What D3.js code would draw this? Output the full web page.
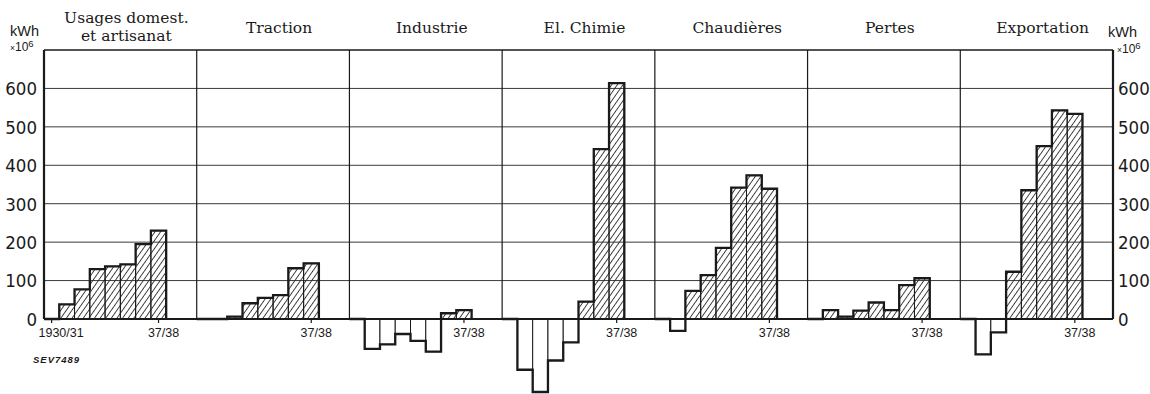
<!DOCTYPE html>
<html>
<head>
<meta charset="utf-8">
<script src="https://cdn.jsdelivr.net/npm/d3@7"></script>
<style>
  html, body { margin: 0; padding: 0; background: #fff; }
  svg { display: block; }
  .tick-y { font-family: "Liberation Sans Narrow", "DejaVu Sans Condensed", sans-serif; font-size: 18.5px; fill: #1a1a1a; }
  .title { font-family: "DejaVu Serif", "Liberation Serif", serif; font-size: 15.5px; fill: #1a1a1a; }
  .xlab { font-family: "Liberation Sans", "DejaVu Sans", sans-serif; font-size: 12.5px; fill: #1a1a1a; }
  .unit { font-family: "Liberation Sans", "DejaVu Sans", sans-serif; fill: #1a1a1a; }
</style>
</head>
<body>
<svg id="chart" width="1150" height="394"></svg>
<script>
// Electricity consumption by use, change against 1930/31 (kWh × 10^6)
const years = ["1930/31", "31/32", "32/33", "33/34", "34/35", "35/36", "36/37", "37/38"];
const categories = ["Usages domest.|et artisanat", "Traction", "Industrie", "El. Chimie", "Chaudières", "Pertes", "Exportation"];

const usages      = [0, 38, 77, 130, 137, 142, 195, 230];
const traction    = [0, 0, 6, 41, 55, 62, 132, 145];
const industrie   = [0, -78, -66, -39, -57, -85, 15, 23];
const chimie      = [0, -132, -190, -108, -61, 45, 442, 614];
const chaudieres  = [0, -31, 73, 114, 185, 342, 374, 339];
const pertes      = [0, 23, 6, 22, 43, 23, 88, 106];
const exportation = [0, -92, -35, 123, 335, 450, 543, 534];

const yTicks = [0, 100, 200, 300, 400, 500, 600];
const yMax = 700;
const slotsPerPanel = 10;

const seriesList = [usages, traction, industrie, chimie, chaudieres, pertes, exportation];

const svg = d3.select("#chart");
const ink = "#1a1a1a";

const plotLeft = 44, plotRight = 1113, plotTop = 50, zeroY = 319;

const y = d3.scaleLinear().domain([0, yMax]).range([zeroY, plotTop]);
const panel = d3.scaleBand().domain(categories).range([plotLeft, plotRight]).padding(0);

// diagonal hatching for positive bars
const defs = svg.append("defs");
const pat = defs.append("pattern")
  .attr("id", "hatch")
  .attr("patternUnits", "userSpaceOnUse")
  .attr("width", 4.6).attr("height", 10)
  .attr("patternTransform", "rotate(35)");
pat.append("line")
  .attr("x1", 2.3).attr("x2", 2.3).attr("y1", 0).attr("y2", 10)
  .attr("stroke", "#2a2a2a").attr("stroke-width", 0.9);

// horizontal grid
svg.append("g").selectAll("line")
  .data(yTicks.filter(d => d > 0))
  .join("line")
  .attr("x1", plotLeft).attr("x2", plotRight)
  .attr("y1", d => y(d)).attr("y2", d => y(d))
  .attr("stroke", "#3a3a3a").attr("stroke-width", 1);

// top frame line
svg.append("line")
  .attr("x1", plotLeft).attr("x2", plotRight)
  .attr("y1", y(yMax)).attr("y2", y(yMax))
  .attr("stroke", ink).attr("stroke-width", 1.3);

// panel dividers
svg.append("g").selectAll("line")
  .data(categories.slice(1))
  .join("line")
  .attr("x1", d => panel(d)).attr("x2", d => panel(d))
  .attr("y1", y(yMax)).attr("y2", y(0))
  .attr("stroke", ink).attr("stroke-width", 1.2);

// bars per panel
categories.forEach((cat, pi) => {
  const vals = seriesList[pi];
  const x = d3.scaleLinear().domain([0, slotsPerPanel]).range([panel(cat), panel(cat) + panel.bandwidth()]);
  const g = svg.append("g");

  g.selectAll("rect")
    .data(vals.map((v, i) => ({ v, i })).filter(d => d.v !== 0))
    .join("rect")
    .attr("x", d => x(d.i))
    .attr("width", d => x(d.i + 1) - x(d.i))
    .attr("y", d => Math.min(y(d.v), y(0)))
    .attr("height", d => Math.abs(y(d.v) - y(0)))
    .attr("fill", d => d.v > 0 ? "url(#hatch)" : "#fff")
    .attr("stroke", ink).attr("stroke-width", 1);

  // heavy stepped outline
  const p = d3.path();
  p.moveTo(x(0), y(0));
  vals.forEach((v, i) => { p.lineTo(x(i), y(v)); p.lineTo(x(i + 1), y(v)); });
  p.lineTo(x(vals.length), y(0));
  g.append("path").attr("d", p.toString())
    .attr("fill", "none").attr("stroke", ink)
    .attr("stroke-width", 2.3).attr("stroke-linejoin", "miter");

  // category title
  const lines = cat.split("|");
  const cx = panel(cat) + panel.bandwidth() / 2 + 6;
  lines.forEach((ln, li) => {
    svg.append("text").attr("class", "title")
      .attr("x", cx)
      .attr("y", lines.length > 1 ? 23 + li * 18 : 33)
      .attr("text-anchor", "middle")
      .text(ln);
  });

  // year markers
  const marks = pi === 0 ? [0, years.length - 1] : [years.length - 1];
  marks.forEach(i => {
    const bx = (x(i) + x(i + 1)) / 2;
    svg.append("line")
      .attr("x1", bx).attr("x2", bx).attr("y1", y(0)).attr("y2", y(0) + 4)
      .attr("stroke", ink).attr("stroke-width", 1.2);
    const first = i === 0;
    svg.append("text").attr("class", "xlab")
      .attr("x", first ? plotLeft - 5.5 : bx + 5)
      .attr("y", y(0) + 18)
      .attr("text-anchor", first ? "start" : "middle")
      .text(years[i]);
  });
});

// zero line
svg.append("line")
  .attr("x1", plotLeft).attr("x2", plotRight)
  .attr("y1", y(0)).attr("y2", y(0))
  .attr("stroke", ink).attr("stroke-width", 2.2);

// left and right axes
const axisL = d3.axisLeft(y).tickValues(yTicks).tickSize(0).tickPadding(7);
const axisR = d3.axisRight(y).tickValues(yTicks).tickSize(0).tickPadding(5);

const gL = svg.append("g").attr("transform", `translate(${plotLeft},0)`).call(axisL);
const gR = svg.append("g").attr("transform", `translate(${plotRight},0)`).call(axisR);
[gL, gR].forEach(g => {
  g.select(".domain").remove();
  g.selectAll("text").attr("class", "tick-y").attr("dy", "0.34em").attr("fill", ink);
});
svg.append("line").attr("x1", plotLeft).attr("x2", plotLeft)
  .attr("y1", y(yMax)).attr("y2", y(0)).attr("stroke", ink).attr("stroke-width", 2.2);
svg.append("line").attr("x1", plotRight).attr("x2", plotRight)
  .attr("y1", y(yMax)).attr("y2", y(0)).attr("stroke", ink).attr("stroke-width", 2.2);

// unit labels
function unit(xk, xm, yk, ym) {
  svg.append("text").attr("class", "unit").attr("x", xk).attr("y", yk)
    .attr("font-size", 14.5).text("kWh");
  const t = svg.append("text").attr("class", "unit").attr("x", xm).attr("y", ym).attr("font-size", 12);
  t.append("tspan").attr("font-size", 8.5).text("×");
  t.append("tspan").text("10");
  t.append("tspan").attr("font-size", 9.5).attr("dy", -4).text("6");
}
unit(10, 10, 36, 51);
unit(1108, 1117, 37, 53);

// reference number
svg.append("text")
  .attr("x", 33).attr("y", 363)
  .attr("font-family", "Liberation Sans, DejaVu Sans, sans-serif")
  .attr("font-style", "italic").attr("font-weight", "bold")
  .attr("font-size", 9.5).attr("letter-spacing", 1)
  .attr("fill", ink)
  .text("SEV7489");
</script>
</body>
</html>
